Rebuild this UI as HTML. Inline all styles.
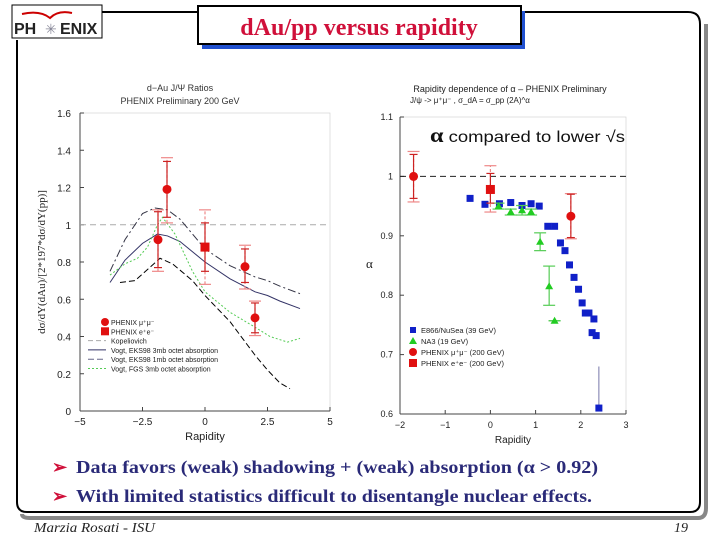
<!DOCTYPE html>
<html><head><meta charset="utf-8"><style>
html,body{margin:0;padding:0;background:#fff;}
svg{display:block;font-family:"Liberation Sans",sans-serif;}
</style></head><body>
<svg id="s" width="720" height="540" viewBox="0 0 720 540" xmlns="http://www.w3.org/2000/svg">
<path d="M22 514 Q22 518 30 518 L698 518 Q706 518 706 508 L706 24" fill="none" stroke="#888" stroke-width="4"/>
<path d="M17 40 L17 502 Q17 512 27 512 L690 512 Q700 512 700 502 L700 24 Q700 12 688 12 L102 12" fill="none" stroke="#000" stroke-width="2"/>
<g>
<rect x="12" y="5" width="90" height="33" fill="#fff" stroke="#000" stroke-width="1"/>
<path d="M22 14 Q40 10 50 18 Q58 10 72 13" fill="none" stroke="#c00" stroke-width="2"/>
<text x="14" y="34" font-size="16" font-weight="bold" fill="#222">PH</text>
<text x="45" y="34" font-size="14" fill="#889">✳</text>
<text x="60" y="34" font-size="16" font-weight="bold" fill="#222">ENIX</text>
</g>
<rect x="202" y="11" width="323" height="38" fill="#2050d0"/>
<rect x="198" y="6" width="323" height="38" fill="#fff" stroke="#000" stroke-width="2"/>
<text x="359" y="35" text-anchor="middle" font-family="Liberation Serif,serif" font-weight="bold" font-size="24" fill="#d0103a">dAu/pp versus rapidity</text>

<g id="left">
<text x="180" y="91" text-anchor="middle" font-size="9" fill="#333">d−Au J/Ψ Ratios</text>
<text x="180" y="104" text-anchor="middle" font-size="9" fill="#333">PHENIX Preliminary 200 GeV</text>
<text transform="translate(45,262) rotate(-90)" text-anchor="middle" font-family="Liberation Serif,serif" font-size="11" fill="#222">dσ/dY(dAu)/[2*197*dσ/dY(pp)]</text>
<text x="205" y="440" text-anchor="middle" font-size="11" fill="#222">Rapidity</text>
</g>
<g id="right">
<text x="510" y="92" text-anchor="middle" font-size="9" fill="#222">Rapidity dependence of α – PHENIX Preliminary</text>
<text x="470" y="103" text-anchor="middle" font-size="8" fill="#222">J/ψ -&gt; μ⁺μ⁻ ,   σ_dA = σ_pp (2A)^α</text>
<text x="430" y="142" textLength="195" lengthAdjust="spacingAndGlyphs" font-size="16" fill="#111"><tspan font-weight="bold" font-family="Liberation Serif,serif" font-size="21">α</tspan> compared to lower √s</text>
<text x="366" y="268" font-family="Liberation Serif,serif" font-size="13" fill="#222">α</text>
<text x="513" y="443" text-anchor="middle" font-size="10" fill="#222">Rapidity</text>
</g>

<g font-family="Liberation Serif,serif" font-weight="bold" font-size="18" fill="#2a2a78">
<text x="52" y="473" fill="#d0103a">➢</text>
<text x="76" y="473" textLength="522" lengthAdjust="spacingAndGlyphs">Data favors (weak) shadowing + (weak) absorption (α &gt; 0.92)</text>
<text x="52" y="502" fill="#d0103a">➢</text>
<text x="76" y="502" textLength="516" lengthAdjust="spacingAndGlyphs">With limited statistics difficult to disentangle nuclear effects.</text>
</g>
<text x="34" y="532" textLength="121" lengthAdjust="spacingAndGlyphs" font-family="Liberation Serif,serif" font-style="italic" font-size="14" fill="#222">Marzia Rosati -  ISU</text>
<text x="688" y="532" text-anchor="end" font-family="Liberation Serif,serif" font-style="italic" font-size="14" fill="#222">19</text>
</svg>
<script>
const lxTicks=[-5,-2.5,0,2.5,5];
const lxTickLabels=["−5","−2.5","0","2.5","5"];
const lyTicks=[0,0.2,0.4,0.6,0.8,1,1.2,1.4,1.6];
const lyTickLabels=["0","0.2","0.4","0.6","0.8","1","1.2","1.4","1.6"];
const muY=[-1.88,-1.52,1.6,2.0];
const muR=[0.92,1.19,0.775,0.50];
const muStatLo=[0.77,1.04,0.69,0.42];
const muStatHi=[1.07,1.34,0.87,0.58];
const muSysLo=[0.75,1.01,0.655,0.405];
const muSysHi=[1.08,1.36,0.89,0.59];
const eeY=[0];
const eeR=[0.88];
const eeStatLo=[0.75];
const eeStatHi=[1.01];
const eeSysLo=[0.68];
const eeSysHi=[1.08];
const kopX=[-5,5];
const kopR=[1,1];
const v1mbX=[-3.8,-3.2,-2.5,-2.0,-1.5,-1,0,1,2,2.5,3,3.8];
const v1mbR=[0.75,0.92,1.06,1.09,1.08,1.03,0.87,0.78,0.72,0.70,0.67,0.63];
const v3mbX=[-3.8,-3.2,-2.5,-1.9,-1.5,-1,0,1,2,2.5,3,3.8];
const v3mbR=[0.69,0.81,0.90,0.95,0.94,0.91,0.80,0.71,0.64,0.62,0.59,0.55];
const eksX=[-3.8,-3.2,-2.7,-2.3,-1.9,-1.7,-1.2,-0.5,0,1,2,2.6,3.3,3.8];
const eksR=[0.73,0.79,0.82,0.88,1.0,1.04,0.95,0.75,0.64,0.53,0.45,0.40,0.37,0.39];
const lowX=[-3.4,-2.8,-2.3,-1.8,-1.3,-0.5,0,1,2,2.5,3,3.4];
const lowR=[0.69,0.70,0.76,0.82,0.79,0.70,0.62,0.48,0.30,0.22,0.15,0.12];

const rxTicks=[-2,-1,0,1,2,3];
const rxTickLabels=["−2","−1","0","1","2","3"];
const ryTicks=[0.6,0.7,0.8,0.9,1,1.1];
const ryTickLabels=["0.6","0.7","0.8","0.9","1","1.1"];
const e866X=[-0.45,-0.12,0.2,0.45,0.7,0.9,1.08,1.27,1.42,1.55,1.65,1.75,1.85,1.95,2.03,2.1,2.18,2.25,2.29,2.34,2.4];
const e866A=[0.963,0.953,0.954,0.956,0.951,0.954,0.95,0.916,0.916,0.888,0.875,0.851,0.83,0.81,0.787,0.77,0.77,0.737,0.76,0.732,0.61];
const na3X=[0.18,0.45,0.7,0.9,1.1,1.3,1.42];
const na3A=[0.95,0.94,0.943,0.94,0.89,0.815,0.757];
const na3Lo=[0.945,0.935,0.935,0.935,0.875,0.783,0.757];
const na3Hi=[0.955,0.945,0.951,0.945,0.905,0.849,0.757];
const pmuX=[-1.7,1.78];
const pmuA=[1.0,0.933];
const pmuLo=[0.963,0.897];
const pmuHi=[1.037,0.97];
const pmuSysLo=[0.957,0.895];
const pmuSysHi=[1.042,0.971];
const peeX=[0];
const peeA=[0.978];
const peeLo=[0.955];
const peeHi=[1.005];
const peeSysLo=[0.94];
const peeSysHi=[1.018];

const NS="http://www.w3.org/2000/svg";
function mk(parent,tag,attrs){const e=document.createElementNS(NS,tag);for(const k in attrs)e.setAttribute(k,attrs[k]);parent.appendChild(e);return e;}

const L=document.getElementById('left');
const lx=v=>80+(v+5)*25;
const ly=v=>411-v*186.25;
let el=mk(L,'rect',{x:80,y:113,width:250,height:298,fill:'none',stroke:'#ccc','stroke-width':0.6});


el=mk(L,'line',{x1:80,y1:411,x2:330,y2:411,stroke:'#444'});


el=mk(L,'line',{x1:80,y1:113,x2:80,y2:411,stroke:'#444'});


lxTicks.forEach((t,i)=>{
  mk(L,'line',{x1:lx(t),y1:411,x2:lx(t),y2:407,stroke:'#444'});
  const tx=mk(L,'text',{x:lx(t),y:425,'text-anchor':'middle','font-size':10,fill:'#222'});tx.textContent=lxTickLabels[i];
  
  
});
lyTicks.forEach((t,i)=>{
  mk(L,'line',{x1:80,y1:ly(t),x2:84,y2:ly(t),stroke:'#444'});
  const tx=mk(L,'text',{x:71,y:ly(t)+4,'text-anchor':'end','font-size':10,fill:'#222'});tx.textContent=lyTickLabels[i];
  
  
});
function curve(G,xs,ys,fx,fy,attrs,name){
  const p=mk(G,'polyline',Object.assign({points:xs.map((x,i)=>fx(x)+','+fy(ys[i])).join(' '),fill:'none'},attrs));
  
  
}
curve(L,kopX,kopR,lx,ly,{stroke:'#aaa','stroke-dasharray':'6,4','stroke-width':1},'kopeliovich-line');
curve(L,v1mbX,v1mbR,lx,ly,{stroke:'#334','stroke-dasharray':'8,3,2,3','stroke-width':1},'vogt-eks98-1mb-curve');
curve(L,v3mbX,v3mbR,lx,ly,{stroke:'#336','stroke-width':1},'vogt-eks98-3mb-curve');
curve(L,eksX,eksR,lx,ly,{stroke:'#5c5','stroke-dasharray':'2,2','stroke-width':1},'vogt-fgs-3mb-curve');
curve(L,lowX,lowR,lx,ly,{stroke:'#000','stroke-dasharray':'6,3','stroke-width':1},'lower-dashed-curve');
function errbar(G,x,lo,hi,color,cap,dash,name){
  const g=mk(G,'g',{stroke:color,'stroke-width':1.2});
  
  
  const d=dash?{'stroke-dasharray':'3,2'}:{};
  mk(g,'line',Object.assign({x1:x,y1:lo,x2:x,y2:hi},d));
  mk(g,'line',{x1:x-cap,y1:lo,x2:x+cap,y2:lo});
  mk(g,'line',{x1:x-cap,y1:hi,x2:x+cap,y2:hi});
}
muY.forEach((y,i)=>{
  errbar(L,lx(y),ly(muSysLo[i]),ly(muSysHi[i]),'#e88',6,true,'left-mu-sys-error');
  errbar(L,lx(y),ly(muStatLo[i]),ly(muStatHi[i]),'#c22',4,false,'left-mu-stat-error');
  const c=mk(L,'circle',{cx:lx(y),cy:ly(muR[i]),r:4.5,fill:'#e01010'});
  
  
});
eeY.forEach((y,i)=>{
  errbar(L,lx(y),ly(eeSysLo[i]),ly(eeSysHi[i]),'#e88',6,true,'left-ee-sys-error');
  errbar(L,lx(y),ly(eeStatLo[i]),ly(eeStatHi[i]),'#c22',4,false,'left-ee-stat-error');
  const r=mk(L,'rect',{x:lx(y)-4.5,y:ly(eeR[i])-4.5,width:9,height:9,fill:'#e01010'});
  
  
});
const legL=[["PHENIX μ⁺μ⁻","circle"],["PHENIX e⁺e⁻","square"],["Kopeliovich","kop"],["Vogt, EKS98 3mb octet absorption","v3"],["Vogt, EKS98 1mb octet absorption","v1"],["Vogt, FGS 3mb octet absorption","fgs"]];
legL.forEach((e,i)=>{
  const y=322+i*9.3;
  const g=mk(L,'g',{});
  
  
  if(e[1]=='circle')mk(g,'circle',{cx:105,cy:y,r:4,fill:'#e01010'});
  else if(e[1]=='square')mk(g,'rect',{x:101,y:y-4,width:8,height:8,fill:'#e01010'});
  else{const st={kop:['#aaa','5,3'],v3:['#336',''],v1:['#668','6,3'],fgs:['#5c5','2,2']}[e[1]];
    mk(g,'line',{x1:88,y1:y,x2:106,y2:y,stroke:st[0],'stroke-dasharray':st[1]||'none'});}
  const t=mk(g,'text',{x:111,y:y+3,'font-size':7,fill:'#222'});t.textContent=e[0];
});

const R=document.getElementById('right');
const rx=v=>400+(v+2)*45.2;
const ry=v=>414-(v-0.6)*594;
el=mk(R,'rect',{x:400,y:117,width:226,height:297,fill:'none',stroke:'#ccc','stroke-width':0.6});


el=mk(R,'line',{x1:400,y1:414,x2:626,y2:414,stroke:'#444'});


el=mk(R,'line',{x1:400,y1:117,x2:400,y2:414,stroke:'#444'});


rxTicks.forEach((t,i)=>{
  mk(R,'line',{x1:rx(t),y1:414,x2:rx(t),y2:410,stroke:'#444'});
  const tx=mk(R,'text',{x:rx(t),y:428,'text-anchor':'middle','font-size':9,fill:'#222'});tx.textContent=rxTickLabels[i];
  
  
});
ryTicks.forEach((t,i)=>{
  mk(R,'line',{x1:400,y1:ry(t),x2:404,y2:ry(t),stroke:'#444'});
  const tx=mk(R,'text',{x:393,y:ry(t)+3,'text-anchor':'end','font-size':9,fill:'#222'});tx.textContent=ryTickLabels[i];
  
  
});
el=mk(R,'line',{x1:400,y1:ry(1),x2:626,y2:ry(1),stroke:'#222','stroke-dasharray':'6,4'});


el=mk(R,'line',{x1:rx(2.4),y1:ry(0.68),x2:rx(2.4),y2:ry(0.61),stroke:'#77a'});


e866X.forEach((x,i)=>{
  const r=mk(R,'rect',{x:rx(x)-3.5,y:ry(e866A[i])-3.5,width:7,height:7,fill:'#1020c8'});
  
  
});
na3X.forEach((x,i)=>{
  errbar(R,rx(x),ry(na3Lo[i]),ry(na3Hi[i]),'#5c5',6,false,'na3-error');
  const X=rx(x),Y=ry(na3A[i]);
  const p=mk(R,'polygon',{points:`${X},${Y-4} ${X-4},${Y+3} ${X+4},${Y+3}`,fill:'#22cc22'});
  
  
});
pmuX.forEach((x,i)=>{
  errbar(R,rx(x),ry(pmuSysLo[i]),ry(pmuSysHi[i]),'#e88',6,true,'right-mu-sys-error');
  errbar(R,rx(x),ry(pmuLo[i]),ry(pmuHi[i]),'#c22',4,false,'right-mu-stat-error');
  const c=mk(R,'circle',{cx:rx(x),cy:ry(pmuA[i]),r:4.5,fill:'#e01010'});
  
  
});
peeX.forEach((x,i)=>{
  errbar(R,rx(x),ry(peeSysLo[i]),ry(peeSysHi[i]),'#e88',6,true,'right-ee-sys-error');
  errbar(R,rx(x),ry(peeLo[i]),ry(peeHi[i]),'#c22',4,false,'right-ee-stat-error');
  const r=mk(R,'rect',{x:rx(x)-4.5,y:ry(peeA[i])-4.5,width:9,height:9,fill:'#e01010'});
  
  
});
const legR=[["E866/NuSea (39 GeV)","sq"],["NA3 (19 GeV)","tri"],["PHENIX μ⁺μ⁻ (200 GeV)","circ"],["PHENIX e⁺e⁻ (200 GeV)","rsq"]];
legR.forEach((e,i)=>{
  const y=330+i*11;
  const g=mk(R,'g',{});
  
  
  if(e[1]=='sq')mk(g,'rect',{x:410,y:y-3,width:6,height:6,fill:'#1020c8'});
  else if(e[1]=='tri')mk(g,'polygon',{points:`413,${y-4} 409,${y+3} 417,${y+3}`,fill:'#22cc22'});
  else if(e[1]=='circ')mk(g,'circle',{cx:413,cy:y,r:4,fill:'#e01010'});
  else mk(g,'rect',{x:409,y:y-4,width:8,height:8,fill:'#e01010'});
  const t=mk(g,'text',{x:421,y:y+3,'font-size':7.5,fill:'#222'});t.textContent=e[0];
});
</script>
</body></html>
